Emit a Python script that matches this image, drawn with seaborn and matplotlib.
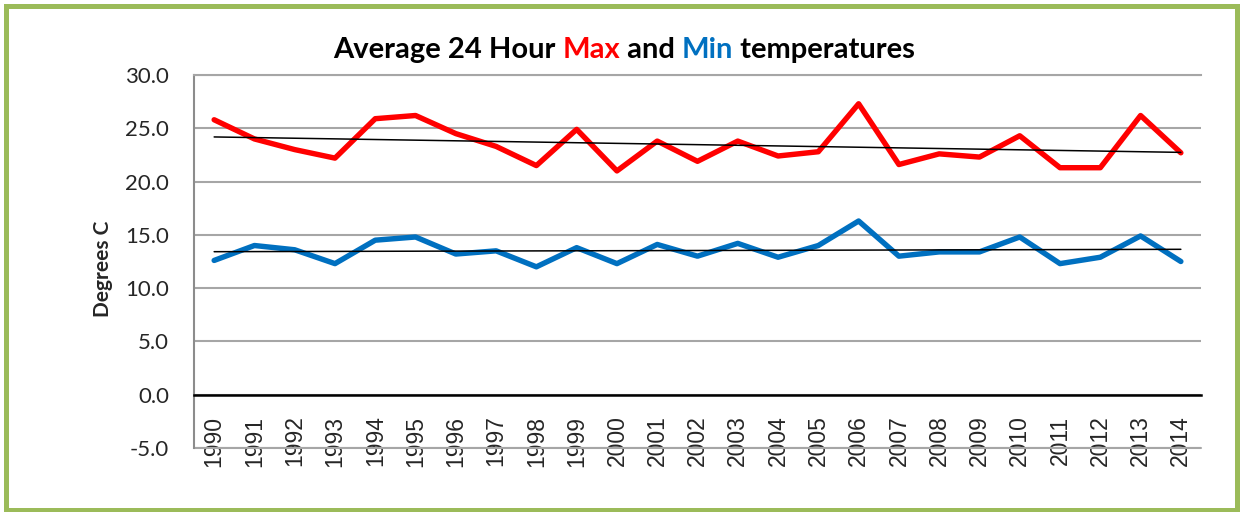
import matplotlib
matplotlib.use("Agg")
import matplotlib.pyplot as plt
import seaborn as sns
import numpy as np
from matplotlib.patches import Rectangle

# values
years = list(range(1990, 2015))
max_temps = [25.8, 24.0, 23.0, 22.2, 25.9, 26.2, 24.5, 23.3, 21.5, 24.9,
             21.0, 23.8, 21.9, 23.8, 22.4, 22.8, 27.3, 21.6, 22.6, 22.3,
             24.3, 21.3, 21.3, 26.2, 22.7]
min_temps = [12.6, 14.0, 13.6, 12.3, 14.5, 14.8, 13.2, 13.5, 12.0, 13.8,
             12.3, 14.1, 13.0, 14.2, 12.9, 14.0, 16.3, 13.0, 13.4, 13.4,
             14.8, 12.3, 12.9, 14.9, 12.5]
y_ticks = [-5, 0, 5, 10, 15, 20, 25, 30]

title_parts = [("Average 24 Hour ", "black"), ("Max", "#FF0000"),
               (" and ", "black"), ("Min", "#0070C0"),
               (" temperatures", "black")]

sns.set_style("white")
plt.rcParams["font.family"] = ["Lato", "DejaVu Sans"]

fig = plt.figure(figsize=(12.41, 5.12), dpi=100)
ax = fig.add_axes([194 / 1241, 1 - 448 / 512, 1007 / 1241, 373 / 512])

sns.lineplot(x=years, y=max_temps, color="#FF0000", linewidth=3.9, ax=ax,
             solid_joinstyle="round", solid_capstyle="round")
sns.lineplot(x=years, y=min_temps, color="#0070C0", linewidth=3.9, ax=ax,
             solid_joinstyle="round", solid_capstyle="round")
for series in (max_temps, min_temps):
    sns.regplot(x=years, y=series, scatter=False, ci=None, ax=ax,
                color="black", line_kws={"linewidth": 1.1})

# category axis crosses at zero, as in the spreadsheet chart
ax.spines["bottom"].set_position(("data", 0))
ax.spines["bottom"].set_color("black")
ax.spines["bottom"].set_linewidth(1.8)
ax.spines["right"].set_visible(False)
ax.spines["top"].set_color("#A6A6A6")
ax.spines["top"].set_linewidth(1.5)
ax.spines["left"].set_color("#8C8C8C")
ax.spines["left"].set_linewidth(1.5)

ax.set_xlim(years[0] - 0.5, years[-1] + 0.5)
ax.set_ylim(-5, 30)
ax.set_yticks(y_ticks)
ax.set_yticklabels([f"{v:.1f}" for v in y_ticks], fontsize=16)
ax.set_xticks(years)
ax.set_xticklabels([str(y) for y in years], rotation=90, fontsize=16.5,
                   family=["Liberation Sans"], va="top")
ax.tick_params(axis="y", length=0, pad=18)
ax.tick_params(axis="x", length=0, pad=15)

ax.grid(axis="y", color="#A6A6A6", linewidth=1.5)
ax.grid(axis="x", visible=False)
ax.axhline(-5, color="#A6A6A6", linewidth=1.5, clip_on=False)

ax.set_ylabel("Degrees C", fontsize=15, fontweight="bold")
ax.yaxis.set_label_coords(-0.080, 0.48)

# multicoloured title, pieces laid side by side
fig.canvas.draw()
renderer = fig.canvas.get_renderer()
pieces = []
total = 0
for txt, col in title_parts:
    t = fig.text(0, 1 - 58 / 512, txt, color=col, fontsize=21,
                 fontweight="bold", va="baseline", ha="left")
    w = t.get_window_extent(renderer).width
    pieces.append((t, w))
    total += w
x0 = 624 - total / 2
for t, w in pieces:
    t.set_x(x0 / 1241)
    x0 += w

fig.patches.append(Rectangle((5.5 / 1241, 2.5 / 512), 1231 / 1241, 504 / 512,
                             transform=fig.transFigure, fill=False,
                             edgecolor="#9BBB59", linewidth=3.6))

fig.savefig("out.png", dpi=100)
